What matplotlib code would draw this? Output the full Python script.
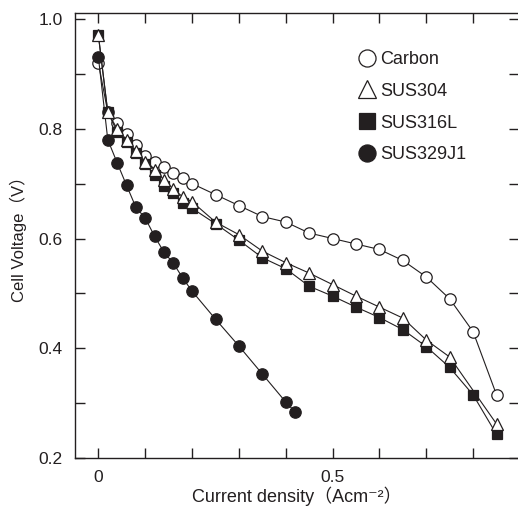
import matplotlib
matplotlib.use("Agg")
import matplotlib.pyplot as plt
from matplotlib.ticker import MultipleLocator, FixedLocator, FixedFormatter

plt.rcParams['font.family'] = ['Liberation Sans', 'Noto Sans CJK JP', 'DejaVu Sans']

# Data
carbon_x = [0, 0.02, 0.04, 0.06, 0.08, 0.10, 0.12, 0.14, 0.16, 0.18, 0.20,
            0.25, 0.30, 0.35, 0.40, 0.45, 0.50, 0.55, 0.60, 0.65, 0.70, 0.75, 0.80, 0.85]
carbon_y = [0.92, 0.83, 0.81, 0.79, 0.77, 0.75, 0.74, 0.73, 0.72, 0.71, 0.70,
            0.68, 0.66, 0.64, 0.63, 0.61, 0.60, 0.59, 0.58, 0.56, 0.53, 0.49, 0.43, 0.315]

sus304_x = [0, 0.02, 0.04, 0.06, 0.08, 0.10, 0.12, 0.14, 0.16, 0.18, 0.20,
            0.25, 0.30, 0.35, 0.40, 0.45, 0.50, 0.55, 0.60, 0.65, 0.70, 0.75, 0.85]
sus304_y = [0.97, 0.83, 0.80, 0.78, 0.76, 0.74, 0.725, 0.707, 0.69, 0.676, 0.667,
            0.63, 0.607, 0.577, 0.556, 0.537, 0.516, 0.495, 0.475, 0.455, 0.415, 0.384, 0.262]

sus316_x = [0, 0.02, 0.04, 0.06, 0.08, 0.10, 0.12, 0.14, 0.16, 0.18, 0.20,
            0.25, 0.30, 0.35, 0.40, 0.45, 0.50, 0.55, 0.60, 0.65, 0.70, 0.75, 0.80, 0.85]
sus316_y = [0.97, 0.83, 0.795, 0.775, 0.755, 0.735, 0.716, 0.695, 0.683, 0.665, 0.655,
            0.627, 0.597, 0.565, 0.545, 0.513, 0.495, 0.475, 0.456, 0.434, 0.403, 0.365, 0.315, 0.243]

sus329_x = [0, 0.02, 0.04, 0.06, 0.08, 0.10, 0.12, 0.14, 0.16, 0.18, 0.20,
            0.25, 0.30, 0.35, 0.40, 0.42]
sus329_y = [0.93, 0.78, 0.738, 0.697, 0.657, 0.637, 0.604, 0.575, 0.555, 0.528, 0.504,
            0.453, 0.404, 0.353, 0.302, 0.284]

labels = ["Carbon", "SUS304", "SUS316L", "SUS329J1"]
x_tick_labels = ["0", "0.5"]
y_tick_labels = ["0.2", "0.4", "0.6", "0.8", "1.0"]

ink = "#231f20"
fig = plt.figure(figsize=(5.18, 5.15), dpi=100)
ax = fig.add_axes([75/518, 1-458/515, 1.0 - 75/518 + 0.002, (458-13)/515])

lw = 0.8
h_c, = ax.plot(carbon_x, carbon_y, '-', color=ink, lw=lw, marker='o', ms=8.2,
               mfc='white', mec=ink, mew=0.9, zorder=3, label=labels[0])
h_s316, = ax.plot(sus316_x, sus316_y, '-', color=ink, lw=lw, marker='s', ms=7.6,
                  mfc=ink, mec=ink, mew=0.9, zorder=4, label=labels[2])
h_s304, = ax.plot(sus304_x, sus304_y, '-', color=ink, lw=lw, marker='^', ms=8.6,
                  mfc='white', mec=ink, mew=0.9, zorder=5, label=labels[1])
h_s329, = ax.plot(sus329_x, sus329_y, '-', color=ink, lw=lw, marker='o', ms=8.2,
                  mfc=ink, mec=ink, mew=0.9, zorder=3, label=labels[3])

ax.set_xlim(-0.05, 0.898)
ax.set_ylim(0.2, 1.011)

ax.xaxis.set_major_locator(FixedLocator([0, 0.5]))
ax.xaxis.set_major_formatter(FixedFormatter(x_tick_labels))
ax.xaxis.set_minor_locator(MultipleLocator(0.1))
ax.yaxis.set_major_locator(FixedLocator([0.2, 0.4, 0.6, 0.8, 1.0]))
ax.yaxis.set_major_formatter(FixedFormatter(y_tick_labels))
ax.yaxis.set_minor_locator(MultipleLocator(0.1))

ax.tick_params(which='both', direction='in', top=True, right=True, length=7,
               width=1.0, color=ink, labelsize=12.5, labelcolor=ink)
ax.tick_params(axis='x', pad=9)
ax.tick_params(axis='y', pad=9)

for s in ['left', 'top', 'bottom']:
    ax.spines[s].set_color(ink)
    ax.spines[s].set_linewidth(1.0)
ax.spines['right'].set_visible(False)

ax.set_xlabel("Current density（Acm⁻²）", fontsize=13, color=ink, labelpad=1)
ax.set_ylabel("Cell Voltage（V）", fontsize=12, color=ink, labelpad=8)

leg = ax.legend(handles=[h_c, h_s304, h_s316, h_s329], loc='upper left',
                bbox_to_anchor=(0.638, 0.935), frameon=False, fontsize=13,
                handlelength=0, handletextpad=0.7, markerscale=1.5,
                labelspacing=0.82, borderpad=0)
for t in leg.get_texts():
    t.set_color(ink)

fig.savefig("out.png", dpi=100)
